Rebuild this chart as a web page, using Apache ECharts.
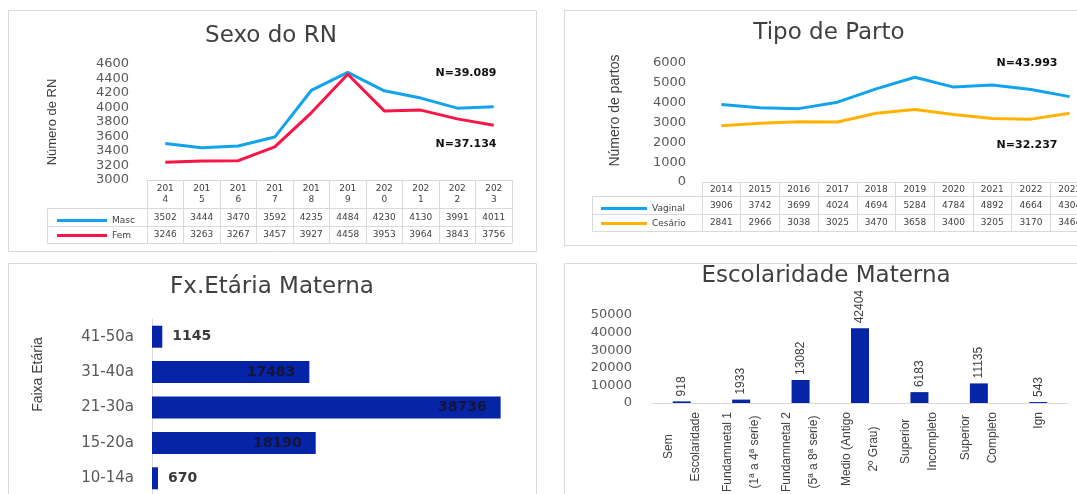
<!DOCTYPE html>
<html>
<head>
<meta charset="utf-8">
<script src="https://cdn.jsdelivr.net/npm/echarts@6/dist/echarts.min.js"></script>
<style>
  html, body { margin: 0; padding: 0; background: #fff; }
  #chart { width: 1077px; height: 494px; }
</style>
</head>
<body>
<div id="chart"></div>
<script>
// ---- data -------------------------------------------------------------
const years = ['2014', '2015', '2016', '2017', '2018', '2019', '2020', '2021', '2022', '2023'];
const mascBirths = [3502, 3444, 3470, 3592, 4235, 4484, 4230, 4130, 3991, 4011];
const femBirths = [3246, 3263, 3267, 3457, 3927, 4458, 3953, 3964, 3843, 3756];
const vaginalBirths = [3906, 3742, 3699, 4024, 4694, 5284, 4784, 4892, 4664, 4304];
const cesareanBirths = [2841, 2966, 3038, 3025, 3470, 3658, 3400, 3205, 3170, 3464];
const ageGroups = ['10-14a', '15-20a', '21-30a', '31-40a', '41-50a'];
const ageCounts = [670, 18190, 38736, 17483, 1145];
const schoolLevels = [
  'Sem\nEscolaridade',
  'Fundamnetal 1\n(1ª a 4ª serie)',
  'Fundamnetal 2\n(5ª a 8ª serie)',
  'Medio (Antigo\n2º Grau)',
  'Superior\nIncompleto',
  'Superior\nCompleto',
  'Ign'
];
const schoolCounts = [918, 1933, 13082, 42404, 6183, 11135, 543];
const sexAxisTicks = [3000, 4600, 200];     // min, max, step
const partoAxisTicks = [0, 6000, 1000];
const schoolAxisTicks = [0, 50000, 10000];
const ageAxisRange = [0, 40000];

// ---- styling ----------------------------------------------------------
const WIDE = "'DejaVu Sans', Verdana, sans-serif";
const SANS = "'Liberation Sans', Arial, sans-serif";
const RULE = '#d9d9d9';
const TEXT = '#404040';
const TICK_TEXT = '#595959';
const BLUE_BAR = '#0524a6';
const plain = v => String(v);

function totalLabel(values) {
  const s = values.reduce((a, b) => a + b, 0);
  return 'N=' + String(s).replace(/\B(?=(\d{3})+(?!\d))/g, '.');
}

// Panel layouts (plot rectangle + data table rows under it)
const P1 = { left: 147, top: 64, right: 565, height: 116, rows: [28, 18, 17], keyLeft: 47 };
const P2 = { left: 702, top: 63, right: -12, height: 119, rows: [14, 18, 17], keyLeft: 592 };
const P3 = { left: 152, top: 319, right: 565, height: 177 };
const P4 = { left: 652, top: 315, right: 9, height: 88 };

function gridOf(p) {
  return { left: p.left, top: p.top, right: p.right, height: p.height,
    containLabel: false, outerBoundsMode: 'none' };
}

// Data table drawn as stacked category axes under the line plot
function tableAxes(gridIndex, p, rowData, headerFmt) {
  const total = p.rows.reduce((a, b) => a + b, 0);
  const headerLines = headerFmt ? 2 : 1;
  const axes = [{
    gridIndex, type: 'category', data: years, boundaryGap: true, position: 'bottom',
    axisLine: { show: true, lineStyle: { color: RULE, width: 1 } },
    axisTick: { show: true, interval: 0, length: total, lineStyle: { color: RULE } },
    axisLabel: {
      interval: 0, fontFamily: WIDE, fontSize: 9, lineHeight: 11, color: TEXT,
      margin: Math.round((p.rows[0] - headerLines * 11) / 2),
      formatter: headerFmt || plain
    },
    splitLine: { show: false }
  }];
  let off = p.rows[0];
  rowData.forEach((vals, i) => {
    axes.push({
      gridIndex, type: 'category', data: vals.map(String), position: 'bottom', offset: off,
      axisLine: { show: true, lineStyle: { color: RULE, width: 1 } },
      axisTick: { show: false },
      axisLabel: {
        interval: 0, fontFamily: WIDE, fontSize: 9, lineHeight: 11, color: TEXT,
        margin: Math.round((p.rows[i + 1] - 11) / 2)
      }
    });
    off += p.rows[i + 1];
  });
  axes.push({
    gridIndex, type: 'category', data: years, position: 'bottom', offset: total,
    axisLine: { show: true, lineStyle: { color: RULE, width: 1 } },
    axisTick: { show: false }, axisLabel: { show: false }
  });
  return axes;
}

function keyBox(p) {
  const y0 = p.top + p.height + p.rows[0];
  const h1 = p.rows[1], h2 = p.rows[2];
  return [
    { type: 'rect', shape: { x: p.keyLeft + 0.5, y: y0 + 0.5, width: p.left - p.keyLeft, height: h1 + h2 },
      style: { fill: 'none', stroke: RULE, lineWidth: 1 }, silent: true },
    { type: 'line', shape: { x1: p.keyLeft, y1: y0 + h1 + 0.5, x2: p.left, y2: y0 + h1 + 0.5 },
      style: { stroke: RULE, lineWidth: 1 }, silent: true }
  ];
}

function panelBox(x, y, w, h) {
  return { type: 'rect', shape: { x: x + 0.5, y: y + 0.5, width: w, height: h },
    style: { fill: 'none', stroke: RULE, lineWidth: 1 }, silent: true };
}

function totalText(text, x, y) {
  return { type: 'text', x, y, silent: true,
    style: { text, fontFamily: WIDE, fontSize: 11, fontWeight: 'bold', fill: '#111',
      align: 'center', verticalAlign: 'middle' } };
}

function titleOf(text, x, y) {
  return { text, left: x, top: y, textAlign: 'center', padding: 0,
    textStyle: { fontFamily: WIDE, fontSize: 23, fontWeight: 'normal', color: TEXT } };
}

// wrapped category names: every line centred inside its label block
const levelFormatter = v => v.split('\n').map(line => '{c|' + line + '}').join('\n');

const xAxes = [
  ...tableAxes(0, P1, [mascBirths, femBirths], v => v.slice(0, 3) + '\n' + v.slice(3)),   // 0..3
  ...tableAxes(1, P2, [vaginalBirths, cesareanBirths], null),                           // 4..7
  { gridIndex: 2, type: 'value', min: ageAxisRange[0], max: ageAxisRange[1], show: false }, // 8
  { gridIndex: 3, type: 'category', data: schoolLevels,                                // 9
    axisLine: { show: true, lineStyle: { color: RULE } }, axisTick: { show: false },
    axisLabel: { interval: 0, rotate: 90, margin: 9, formatter: levelFormatter,
      rich: { c: { align: 'center', fontFamily: SANS, fontSize: 12, lineHeight: 27, color: TEXT } } } }
];

const yAxes = [
  { gridIndex: 0, type: 'value', min: sexAxisTicks[0], max: sexAxisTicks[1], interval: sexAxisTicks[2],
    axisLine: { show: false }, axisTick: { show: false }, splitLine: { show: false },
    axisLabel: { margin: 18, fontFamily: WIDE, fontSize: 13, color: TICK_TEXT, formatter: plain },
    name: 'Número de RN', nameLocation: 'middle', nameGap: 88,
    nameTextStyle: { fontFamily: SANS, fontSize: 13, color: TEXT } },
  { gridIndex: 1, type: 'value', min: partoAxisTicks[0], max: partoAxisTicks[1], interval: partoAxisTicks[2],
    axisLine: { show: false }, axisTick: { show: false }, splitLine: { show: false },
    axisLabel: { margin: 16, fontFamily: WIDE, fontSize: 13, color: TICK_TEXT, formatter: plain },
    name: 'Número de partos', nameLocation: 'middle', nameGap: 80,
    nameTextStyle: { fontFamily: SANS, fontSize: 14, color: TEXT, padding: [0, 0, 0, 24] } },
  { gridIndex: 2, type: 'category', data: ageGroups,
    axisLine: { show: true, lineStyle: { color: RULE } }, axisTick: { show: false },
    axisLabel: { margin: 18, fontFamily: WIDE, fontSize: 15, color: TICK_TEXT },
    name: 'Faixa Etária', nameLocation: 'middle', nameGap: 107,
    nameTextStyle: { fontFamily: SANS, fontSize: 14, color: TEXT, padding: [0, 0, 0, 66] } },
  { gridIndex: 3, type: 'value', min: schoolAxisTicks[0], max: schoolAxisTicks[1], interval: schoolAxisTicks[2],
    axisLine: { show: false }, axisTick: { show: false }, splitLine: { show: false },
    axisLabel: { margin: 20, fontFamily: WIDE, fontSize: 13, color: TICK_TEXT, formatter: plain } }
];

const insideLabel = { show: true, position: 'insideRight', distance: 14, fontFamily: WIDE,
  fontSize: 14, fontWeight: 'bold', color: '#15153a' };
const outsideLabel = { show: true, position: 'right', distance: 10, fontFamily: WIDE,
  fontSize: 14, fontWeight: 'bold', color: '#3a3a3a' };

const legendText = { fontFamily: WIDE, fontSize: 9, color: TEXT };

const option = {
  animation: false,
  backgroundColor: '#ffffff',
  title: [
    titleOf('Sexo do RN', 271, 25),
    titleOf('Tipo de Parto', 829, 22),
    titleOf('Fx.Etária Materna', 272, 276),
    titleOf('Escolaridade Materna', 826, 265)
  ],
  grid: [gridOf(P1), gridOf(P2), gridOf(P3), gridOf(P4)],
  xAxis: xAxes,
  yAxis: yAxes,
  legend: [
    { data: ['Masc', 'Fem'], orient: 'vertical', left: 52, top: 211, itemGap: 6,
      icon: 'rect', itemWidth: 50, itemHeight: 3, textStyle: legendText, selectedMode: false },
    { data: ['Vaginal', 'Cesário'], orient: 'vertical', left: 596, top: 199, itemGap: 6,
      icon: 'rect', itemWidth: 46, itemHeight: 3, textStyle: legendText, selectedMode: false }
  ],
  series: [
    { name: 'Masc', type: 'line', xAxisIndex: 0, yAxisIndex: 0, data: mascBirths,
      symbol: 'none', lineStyle: { width: 3, color: '#12a3ee' }, itemStyle: { color: '#12a3ee' } },
    { name: 'Fem', type: 'line', xAxisIndex: 0, yAxisIndex: 0, data: femBirths,
      symbol: 'none', lineStyle: { width: 3, color: '#fb1446' }, itemStyle: { color: '#fb1446' } },
    { name: 'Vaginal', type: 'line', xAxisIndex: 4, yAxisIndex: 1, data: vaginalBirths,
      symbol: 'none', lineStyle: { width: 3, color: '#12a3ee' }, itemStyle: { color: '#12a3ee' } },
    { name: 'Cesário', type: 'line', xAxisIndex: 4, yAxisIndex: 1, data: cesareanBirths,
      symbol: 'none', lineStyle: { width: 3, color: '#ffb300' }, itemStyle: { color: '#ffb300' } },
    { name: 'Faixa Etária', type: 'bar', xAxisIndex: 8, yAxisIndex: 2, barWidth: 22,
      itemStyle: { color: BLUE_BAR },
      data: ageCounts.map(v => ({ value: v, label: v > 5000 ? insideLabel : outsideLabel })) },
    { name: 'Escolaridade', type: 'bar', xAxisIndex: 9, yAxisIndex: 3, barWidth: 18,
      itemStyle: { color: BLUE_BAR }, data: schoolCounts,
      label: { show: true, position: 'top', rotate: 90, align: 'left', verticalAlign: 'middle',
        distance: 5, fontFamily: SANS, fontSize: 12, color: TEXT } }
  ],
  graphic: [
    panelBox(8, 10, 528, 241),
    panelBox(564, 10, 530, 235),
    panelBox(8, 263, 528, 240),
    panelBox(564, 263, 530, 240),
    ...keyBox(P1),
    ...keyBox(P2),
    totalText(totalLabel(mascBirths), 466, 73),
    totalText(totalLabel(femBirths), 466, 144),
    totalText(totalLabel(vaginalBirths), 1027, 63),
    totalText(totalLabel(cesareanBirths), 1027, 145)
  ]
};

const chart = echarts.init(document.getElementById('chart'));
chart.setOption(option);
</script>
</body>
</html>
